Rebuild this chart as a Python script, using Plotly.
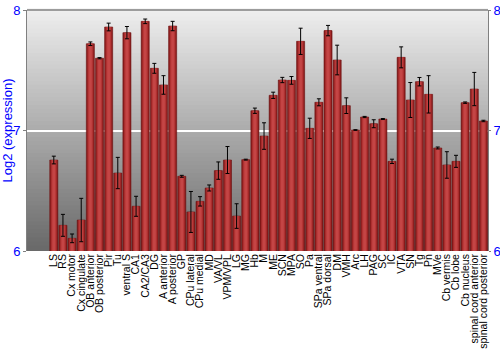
import plotly.graph_objects as go

regions = ["LS", "RS", "Cx motor", "Cx cingulate", "OB anterior", "OB posterior", "Pir", "Tu",
           "ventral S", "CA1", "CA2/CA3", "DG", "A anterior", "A posterior", "GP", "CPu lateral",
           "CPu medial", "MD", "VA/VL", "VPM/VPL", "LG", "MG", "Hb", "M", "ME", "SCN", "MPA", "SO",
           "Pa", "SPa ventral", "SPa dorsal", "DM", "VMH", "Arc", "LH", "PAG", "SC", "IC", "VTA",
           "SN", "Tg", "Pn", "MVe", "Cb vermis", "Cb lobe", "Cb nucleus", "spinal cord anterior",
           "spinal cord posterior"]
expression = [6.755, 6.213, 6.105, 6.257, 7.72, 7.60, 7.859, 6.647,
              7.812, 6.371, 7.906, 7.516, 7.378, 7.867, 6.62, 6.324,
              6.412, 6.523, 6.667, 6.755, 6.29, 6.758, 7.164, 6.954, 7.292, 7.419, 7.416, 7.74,
              7.018, 7.234, 7.829, 7.585, 7.206, 7.004, 7.112, 7.056, 7.095, 6.744, 7.607,
              7.253, 7.405, 7.30, 6.855, 6.714, 6.744, 7.231, 7.344,
              7.079]
error = [0.032, 0.091, 0.036, 0.18, 0.015, 0.005, 0.032, 0.13,
         0.051, 0.083, 0.019, 0.041, 0.077, 0.039, 0.008, 0.17,
         0.039, 0.025, 0.072, 0.112, 0.102, 0.004, 0.022, 0.11, 0.026, 0.022, 0.032, 0.109,
         0.084, 0.029, 0.043, 0.123, 0.065, 0.003, 0.005, 0.033, 0.004, 0.018, 0.087,
         0.145, 0.035, 0.155, 0.008, 0.11, 0.05, 0.006, 0.138,
         0.006]
y_ticks = [6, 7, 8]
base_level = 6

fig = go.Figure()

# bar body with a faux horizontal gradient (stacked overlays of decreasing width)
layers = [(0.88, "#7e1616", dict(color="#6e1212", width=0.6)),
          (0.70, "#a02828", None),
          (0.50, "#b83838", None),
          (0.28, "#c44545", None)]
for i, (w, col, ln) in enumerate(layers):
    fig.add_trace(go.Bar(
        x=regions, y=[v - base_level for v in expression], base=base_level,
        width=w, marker=dict(color=col, line=ln if ln else dict(width=0)),
        error_y=dict(type="data", array=error, color="black", thickness=1, width=2) if i == len(layers) - 1 else None,
        showlegend=False, hoverinfo="skip"))

# invisible trace for right axis
fig.add_trace(go.Scatter(x=[regions[0]], y=[base_level], yaxis="y2", mode="markers",
                         marker=dict(opacity=0), showlegend=False, hoverinfo="skip"))

# gradient background
n = 60
shapes = []
for k in range(n):
    t = k / (n - 1)
    g = int(round(0xee - (0xee - 0x6a) * t))
    col = f"rgb({g},{g},{g})"
    shapes.append(dict(type="rect", xref="paper", yref="paper", x0=0, x1=1,
                       y0=1 - (k + 1) / n, y1=1 - k / n + 0.006, fillcolor=col,
                       line=dict(width=0), layer="below"))
shapes.append(dict(type="line", xref="paper", yref="paper", x0=0, x1=1, y0=1, y1=1,
                   line=dict(color="#808080", width=1.5)))

fig.update_layout(
    width=500, height=350,
    margin=dict(l=27, r=12, t=10, b=99),
    paper_bgcolor="white", plot_bgcolor="rgba(0,0,0,0)",
    barmode="overlay", bargap=0.1,
    font=dict(family="Liberation Sans, Arial, sans-serif", size=11, color="black"),
    shapes=shapes,
    xaxis=dict(tickangle=-90, tickfont=dict(size=10.5, color="black"), showgrid=False,
               tickmode="linear", tick0=0, dtick=1,
               ticks="", showline=False, zeroline=False, automargin=False),
    yaxis=dict(range=[6, 8], tickvals=y_ticks, ticktext=[str(t) for t in y_ticks],
               tickfont=dict(size=13, color="blue"), ticks="outside", ticklen=3,
               tickcolor="#808080", showline=True, linecolor="#808080", linewidth=1,
               showgrid=True, gridcolor="white", gridwidth=1.5, zeroline=False,
               title=dict(text="Log2 (expression)", font=dict(size=13, color="blue"), standoff=2),
               automargin=False),
    yaxis2=dict(range=[6, 8], tickvals=y_ticks, overlaying="y", side="right",
                tickfont=dict(size=13, color="blue"), ticks="outside", ticklen=2,
                tickcolor="#808080", showline=True, linecolor="#808080", linewidth=1,
                showgrid=False, zeroline=False, automargin=False),
)

fig.write_html("out.html")
